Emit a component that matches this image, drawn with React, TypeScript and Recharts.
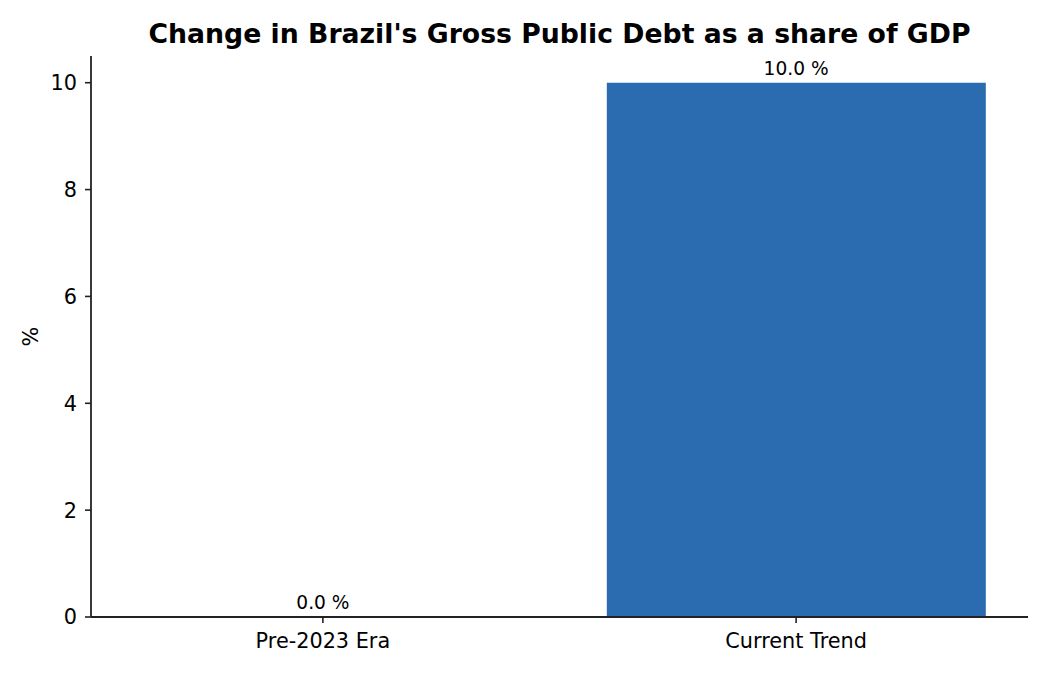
import { Bar, ComposedChart, LabelList, Line, XAxis, YAxis } from "recharts";

const CATEGORIES = ["Pre-2023 Era", "Current Trend"];
const DEBT_CHANGE = [0.0, 10.0];
const Y_TICKS = [0, 2, 4, 6, 8, 10];

const FONT = "'DejaVu Sans', Verdana, sans-serif";
const INK = "#222";
const BAR_FILL = "#2b6cb0";

const data = CATEGORIES.map((name, i) => ({
  idx: i,
  name,
  value: DEBT_CHANGE[i],
}));

function PercentLabel({ viewBox }: any) {
  const { x, y, height } = viewBox;
  const cx = x + 7;
  const cy = y + height / 2;
  return (
    <text
      x={cx}
      y={cy}
      transform={`rotate(-90 ${cx} ${cy})`}
      textAnchor="middle"
      fontSize={20.8}
      fontFamily={FONT}
      fill="#000"
    >
      %
    </text>
  );
}

export default function App() {
  return (
    <div
      style={{
        position: "absolute",
        left: 0,
        top: 0,
        width: 1050,
        height: 675,
        background: "#fff",
        fontFamily: FONT,
      }}
    >
      <div
        style={{
          position: "absolute",
          left: 91,
          width: 937,
          top: 21,
          textAlign: "center",
          fontSize: 26.7,
          lineHeight: "26.7px",
          fontWeight: "bold",
          color: "#000",
          whiteSpace: "nowrap",
        }}
      >
        Change in Brazil's Gross Public Debt as a share of GDP
      </div>
      <ComposedChart
        width={1050}
        height={675}
        data={data}
        margin={{ top: 56, right: 22, bottom: 18, left: 31 }}
        barCategoryGap="10%"
      >
        <XAxis
          type="number"
          dataKey="idx"
          domain={[-0.49, 1.49]}
          ticks={[0, 1]}
          tickFormatter={(i: number) => CATEGORIES[i] ?? ""}
          height={40}
          axisLine={{ stroke: INK, strokeWidth: 1.8 }}
          tickLine={{ stroke: INK, strokeWidth: 1.6 }}
          tickSize={6}
          tickMargin={10}
          tick={{ fontSize: 20.8, fill: "#000", fontFamily: FONT }}
          allowDataOverflow
        />
        <YAxis
          domain={[0, 10.5]}
          ticks={Y_TICKS}
          width={60}
          axisLine={{ stroke: INK, strokeWidth: 1.8 }}
          tickLine={{ stroke: INK, strokeWidth: 1.6 }}
          tickSize={6}
          tickMargin={8}
          tick={{ fontSize: 20.8, fill: "#000", fontFamily: FONT }}
          label={<PercentLabel />}
          allowDataOverflow
        />
        <Bar dataKey="value" fill={BAR_FILL} isAnimationActive={false} />
        {/* invisible line only carries the value labels, so the zero bar gets one too */}
        <Line
          dataKey="value"
          stroke="none"
          dot={false}
          activeDot={false}
          isAnimationActive={false}
        >
          <LabelList
            dataKey="value"
            position="top"
            offset={8}
            formatter={(v: any) => `${Number(v).toFixed(1)} %`}
            style={{ fontSize: 18.6, fill: "#000", fontFamily: FONT }}
          />
        </Line>
      </ComposedChart>
    </div>
  );
}
